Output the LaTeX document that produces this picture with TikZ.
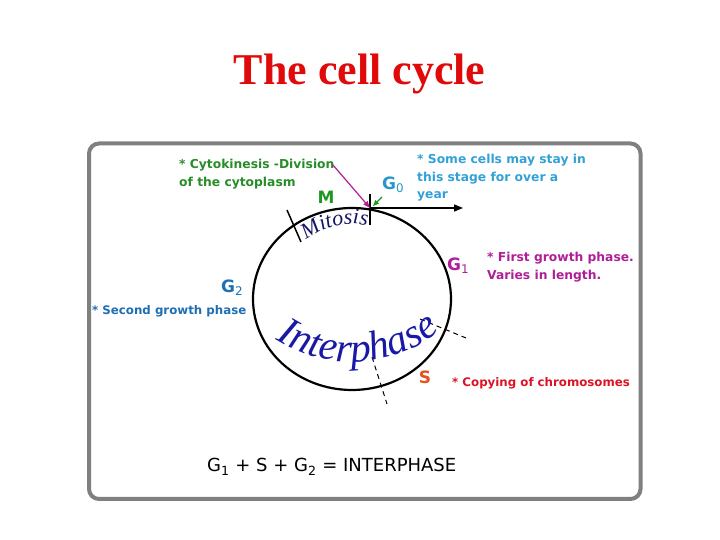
\documentclass[tikz,border=0pt]{standalone}
\usepackage{fontspec}
\setmainfont{Liberation Serif}
\newfontfamily\comic{DejaVu Sans}
\usetikzlibrary{arrows.meta,decorations.text}
\definecolor{titlered}{RGB}{225,10,10}
\definecolor{cytogreen}{RGB}{40,140,40}
\definecolor{mgreen}{RGB}{34,150,34}
\definecolor{gzeroblue}{RGB}{40,150,200}
\definecolor{somecyan}{RGB}{50,160,215}
\definecolor{gmag}{RGB}{175,30,150}
\definecolor{gtwoblue}{RGB}{30,110,180}
\definecolor{sorange}{RGB}{230,80,30}
\definecolor{copyred}{RGB}{220,20,40}
\definecolor{navy}{RGB}{20,20,100}
\definecolor{interblue}{RGB}{25,25,165}
\definecolor{framegray}{RGB}{128,128,128}
\tikzset{
  lbl/.style={inner sep=0pt, font=\comic\bfseries\fontsize{12.3}{17.5}\selectfont, align=left},
  phase/.style={inner sep=0pt, font=\comic\bfseries\fontsize{17}{17}\selectfont},
  tick/.style={line width=1.5pt, black},
  dashline/.style={line width=1pt, dash pattern=on 5pt off 4pt, black},
  arr/.style={line width=1.5pt, -{Triangle[length=9pt,width=7pt]}}
}
\begin{document}
\begin{tikzpicture}[x=1pt,y=1pt]
\useasboundingbox (0,0) rectangle (720,540);
% frame
\draw[framegray, line width=4pt, rounded corners=10pt] (89,396.5) rectangle (640.5,41);
% title
\node[anchor=base, inner sep=0pt, text=titlered, font=\bfseries\fontsize{44}{44}\selectfont] (title) at (359.5,455) {The cell cycle};
% cycle
\draw[line width=2.2pt] (352,241) ellipse [x radius=99, y radius=91];
\coordinate (top) at (370,332);
\coordinate (tickA) at (370,346);
\coordinate (tickB) at (370,315);
\draw[tick] (tickA) -- (tickB);
\coordinate (mA) at (287,330);
\coordinate (mB) at (301,298);
\draw[tick] (mA) -- (mB);
\coordinate (gzeroend) at (463,332);
\draw[arr] (top) -- (gzeroend);
\coordinate (dA1) at (420,221);
\coordinate (dA2) at (466,202);
\draw[dashline] (dA1) -- (dA2);
\coordinate (dB1) at (372,183);
\coordinate (dB2) at (387,136);
\draw[dashline] (dB1) -- (dB2);
% curved texts
\path[decorate, decoration={text along path, text align=center,
  text={|\itshape\fontsize{22}{22}\selectfont\color{navy}|Mitosis}}]
  (352,241) ++(129:75) arc[start angle=129, end angle=77, radius=75];
\path[decorate, decoration={text along path, text align=center,
  text={|\itshape\fontsize{41}{41}\selectfont\color{interblue}|Interphase}}]
  (352,318) ++(236:140) arc[start angle=236, end angle=310, radius=140];
% labels
\node[lbl, anchor=north west, text=cytogreen] (cyto) at (179,381) {* Cytokinesis -Division\\of the cytoplasm};
\node[phase, text=mgreen] (M) at (326,343) {M};
\node[phase, text=gzeroblue, anchor=west] (G0) at (382,355) {G\textsubscript{\mdseries 0}};
\node[lbl, anchor=north west, text=somecyan] (some) at (417,386) {* Some cells may stay in\\this stage for over a\\year};
\node[phase, text=gmag, anchor=west] (G1) at (447,274) {G\textsubscript{\mdseries 1}};
\node[lbl, anchor=north west, text=gmag] (first) at (487,288) {* First growth phase.\\Varies in length.};
\node[phase, text=gtwoblue, anchor=west] (G2) at (221,252) {G\textsubscript{\mdseries 2}};
\node[lbl, anchor=west, text=gtwoblue, font=\comic\bfseries\fontsize{11.8}{14}\selectfont] (second) at (92,229) {* Second growth phase};
\node[phase, text=sorange] (S) at (425,163) {S};
\node[lbl, anchor=west, text=copyred, font=\comic\bfseries\fontsize{11.8}{14}\selectfont] (copy) at (452,157) {* Copying of chromosomes};
\node[inner sep=0pt, anchor=west, font=\comic\fontsize{18}{18}\selectfont] (eq) at (207,73) {G\textsubscript{1} + S + G\textsubscript{2} = INTERPHASE};
% pointer arrows
\coordinate (cytoend) at (333,375);
\draw[gmag, line width=1.2pt, -{Triangle[length=7pt,width=5pt]}] (cytoend) -- (top);
\coordinate (gzp) at (382,343);
\coordinate (gze) at (373,334);
\draw[mgreen, line width=1.2pt, -{Triangle[length=6pt,width=5pt]}] (gzp) -- (gze);
\end{tikzpicture}
\end{document}
